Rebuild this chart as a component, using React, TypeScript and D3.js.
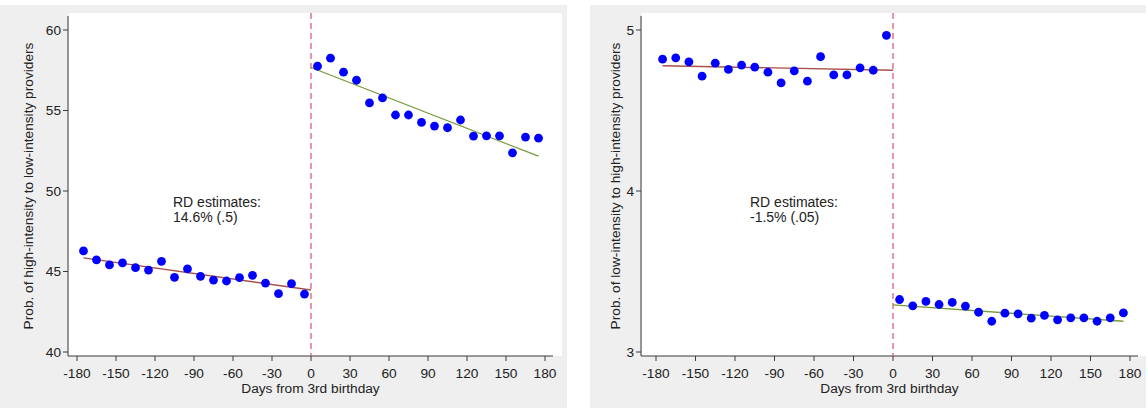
import React from "react";
import * as d3 from "d3";

// ---- Data ----
const binsLeft = [-175, -165, -155, -145, -135, -125, -115, -105, -95, -85, -75, -65, -55, -45, -35, -25, -15, -5];
const binsRight = [5, 15, 25, 35, 45, 55, 65, 75, 85, 95, 105, 115, 125, 135, 145, 155, 165, 175];

// Panel A: high-intensity -> low-intensity
const aLeft = [46.28, 45.72, 45.41, 45.53, 45.24, 45.09, 45.63, 44.64, 45.16, 44.70, 44.47, 44.41, 44.62, 44.76, 44.28, 43.62, 44.24, 43.60];
const aRight = [57.75, 58.25, 57.38, 56.88, 55.47, 55.78, 54.72, 54.72, 54.26, 54.03, 53.93, 54.41, 53.41, 53.43, 53.43, 52.37, 53.35, 53.28];
const aFitLeft = [[-175, 45.84], [0, 43.85]];
const aFitRight = [[0, 57.67], [175, 52.16]];
const aTicks = [40, 45, 50, 55, 60];

// Panel B: low-intensity -> high-intensity
const bLeft = [4.819, 4.827, 4.802, 4.713, 4.794, 4.755, 4.782, 4.769, 4.738, 4.671, 4.746, 4.682, 4.834, 4.721, 4.721, 4.765, 4.750, 4.967];
const bRight = [3.326, 3.287, 3.314, 3.295, 3.308, 3.285, 3.247, 3.191, 3.241, 3.237, 3.210, 3.227, 3.200, 3.212, 3.212, 3.191, 3.212, 3.243];
const bFitLeft = [[-175, 4.778], [0, 4.750]];
const bFitRight = [[0, 3.293], [175, 3.191]];
const bTicks = [3, 4, 5];

const xTicks = [-180, -150, -120, -90, -60, -30, 0, 30, 60, 90, 120, 150, 180];
const xTitle = "Days from 3rd birthday";

const FONT = "'Liberation Sans', Arial, Helvetica, sans-serif";
const FS = 13.7;

type PanelProps = {
  ox: number;
  boxW: number;
  axisX: number;
  xRange: [number, number];
  axisEnd: number;
  yDomain: [number, number];
  yTicks: number[];
  left: number[];
  right: number[];
  fitL: number[][];
  fitR: number[][];
  yTitle: string;
  yTitleX: number;
  rd1: string;
  rd2: string;
  rdX: number;
};

function Panel(p: PanelProps) {
  const x = d3.scaleLinear().domain([-180, 180]).range(p.xRange);
  const y = d3.scaleLinear().domain(p.yDomain).range([352, 30]);
  const axisY = 356;
  const line = d3.line<number[]>().x((d) => x(d[0])).y((d) => y(d[1]));
  const axisCol = "#3a3a3a";
  return (
    <g transform={`translate(${p.ox},0)`}>
      <rect x={0} y={5} width={p.boxW} height={403} fill="#efefef" />
      <rect x={p.axisX + 1} y={13} width={p.axisEnd - p.axisX + 8} height={axisY - 13} fill="#ffffff" />
      {/* axes */}
      <line x1={p.axisX} x2={p.axisX} y1={16} y2={axisY} stroke={axisCol} strokeWidth={1} />
      <line x1={p.axisX} x2={p.axisEnd} y1={axisY} y2={axisY} stroke={axisCol} strokeWidth={1} />
      {p.yTicks.map((t) => (
        <g key={"y" + t}>
          <line x1={p.axisX - 5} x2={p.axisX} y1={y(t)} y2={y(t)} stroke={axisCol} />
          <text x={p.axisX - 7} y={y(t)} dy="0.35em" textAnchor="end" fontSize={FS} fontFamily={FONT} fill="#222">
            {t}
          </text>
        </g>
      ))}
      {xTicks.map((t) => (
        <g key={"x" + t}>
          <line x1={x(t)} x2={x(t)} y1={axisY} y2={axisY + 5} stroke={axisCol} />
          <text x={x(t)} y={373} dy="0.35em" textAnchor="middle" fontSize={FS} fontFamily={FONT} fill="#222">
            {t}
          </text>
        </g>
      ))}
      <text x={(p.axisX + p.axisEnd) / 2} y={388.5} dy="0.35em" textAnchor="middle" fontSize={FS} fontFamily={FONT} fill="#222">
        {xTitle}
      </text>
      <text
        transform={`translate(${p.yTitleX},${(16 + axisY) / 2}) rotate(-90)`}
        textAnchor="middle"
        dy="0.35em"
        fontSize={FS}
        fontFamily={FONT}
        fill="#222"
      >
        {p.yTitle}
      </text>
      {/* cutoff */}
      <line x1={x(0)} x2={x(0)} y1={13} y2={axisY} stroke="#d9506e" strokeWidth={1.2} strokeDasharray="6,4" />
      {/* fits */}
      <path d={line(p.fitL) || ""} stroke="#a8504a" strokeWidth={1.3} fill="none" />
      <path d={line(p.fitR) || ""} stroke="#789a3c" strokeWidth={1.3} fill="none" />
      {/* points */}
      {binsLeft.map((b, i) => (
        <circle key={"l" + b} cx={x(b)} cy={y(p.left[i])} r={4.4} fill="#0000ff" />
      ))}
      {binsRight.map((b, i) => (
        <circle key={"r" + b} cx={x(b)} cy={y(p.right[i])} r={4.4} fill="#0000ff" />
      ))}
      <text x={p.rdX} y={202} dy="0.35em" fontSize={14} fontFamily={FONT} fill="#222">
        {p.rd1}
      </text>
      <text x={p.rdX} y={217} dy="0.35em" fontSize={14} fontFamily={FONT} fill="#222">
        {p.rd2}
      </text>
    </g>
  );
}

export default function App() {
  return (
    <svg width={1148} height={411} style={{ position: "absolute", left: 0, top: 0, background: "#ffffff" }}>
      <Panel
        ox={0}
        boxW={567}
        axisX={68}
        xRange={[77, 545]}
        axisEnd={553}
        yDomain={[40, 60]}
        yTicks={aTicks}
        left={aLeft}
        right={aRight}
        fitL={aFitLeft}
        fitR={aFitRight}
        yTitle="Prob. of high-intensity to low-intensity providers"
        yTitleX={28}
        rd1="RD estimates:"
        rd2="14.6% (.5)"
        rdX={173}
      />
      <Panel
        ox={590}
        boxW={556}
        axisX={51}
        xRange={[66, 540]}
        axisEnd={548}
        yDomain={[3, 5]}
        yTicks={bTicks}
        left={bLeft}
        right={bRight}
        fitL={bFitLeft}
        fitR={bFitRight}
        yTitle="Prob. of low-intensity to high-intensity providers"
        yTitleX={25}
        rd1="RD estimates:"
        rd2="-1.5% (.05)"
        rdX={160}
      />
    </svg>
  );
}
